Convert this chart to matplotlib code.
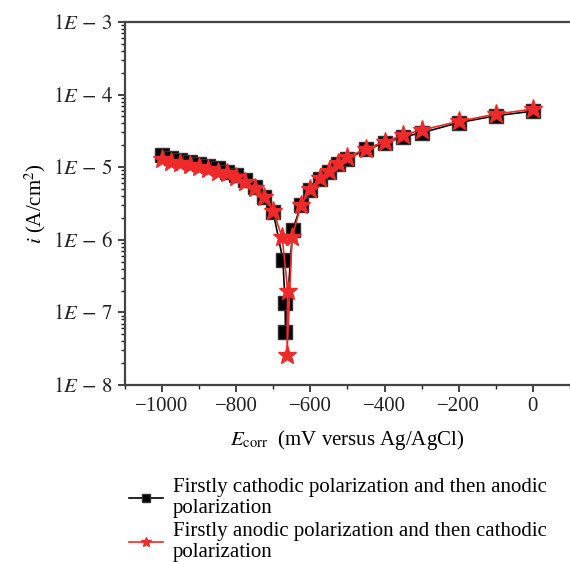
import numpy as np
import matplotlib
matplotlib.use("Agg")
import matplotlib.pyplot as plt
from matplotlib.ticker import FixedLocator, FuncFormatter, LogLocator, MultipleLocator, NullFormatter

plt.rcParams['font.family'] = ['Liberation Serif', 'DejaVu Serif']
plt.rcParams['mathtext.fontset'] = 'stix'

# Firstly cathodic then anodic (black squares)
E_cat = [-1000, -975, -950, -925, -900, -875, -850, -825, -800, -775, -750, -725, -700,
         -674, -668, -667, -648,
         -625, -600, -575, -550, -525, -500, -450, -400, -350, -300, -200, -100, 0]
i_cat = [1.46e-5, 1.32e-5, 1.25e-5, 1.18e-5, 1.12e-5, 1.03e-5, 9.6e-6, 8.6e-6, 7.8e-6, 6.6e-6, 5.4e-6, 3.9e-6, 2.4e-6,
         5.3e-7, 1.35e-7, 5.3e-8, 1.35e-6,
         3.0e-6, 4.8e-6, 6.8e-6, 8.5e-6, 1.1e-5, 1.3e-5, 1.75e-5, 2.15e-5, 2.6e-5, 2.97e-5, 4.1e-5, 5.1e-5, 5.9e-5]

# Firstly anodic then cathodic (red stars)
E_ano = [-1000, -975, -950, -925, -900, -875, -850, -825, -800, -775, -750, -725, -700,
         -676, -661, -663, -649,
         -625, -600, -575, -550, -525, -500, -450, -400, -350, -300, -200, -100, 0]
i_ano = [1.28e-5, 1.18e-5, 1.15e-5, 1.07e-5, 1.01e-5, 9.3e-6, 8.6e-6, 8.2e-6, 7.3e-6, 6.3e-6, 5.1e-6, 3.9e-6, 2.5e-6,
         1.08e-6, 2.0e-7, 2.6e-8, 1.1e-6,
         3.0e-6, 5.0e-6, 7.1e-6, 8.9e-6, 1.15e-5, 1.37e-5, 1.8e-5, 2.23e-5, 2.78e-5, 3.24e-5, 4.27e-5, 5.37e-5, 6.3e-5]

lab_cat = "Firstly cathodic polarization and then anodic\npolarization"
lab_ano = "Firstly anodic polarization and then cathodic\npolarization"

fig = plt.figure(figsize=(5.7, 5.62), dpi=100)
ax = fig.add_axes([0.219, 0.315, 0.781, 0.646])

l1, = ax.plot(E_cat, i_cat, '-', color='black', lw=1.2, marker='s', ms=9.5,
              mfc='black', mec='#333333', label=lab_cat)
l2, = ax.plot(E_ano, i_ano, '-', color='#ee2a2a', lw=1.2, marker='*', ms=14,
              mfc='#ee2a2a', mec='#ee2a2a', label=lab_ano)

ax.set_yscale('log')
ax.set_ylim(1e-8, 1e-3)
ax.set_xlim(-1100, 100)

ax.yaxis.set_major_locator(FixedLocator([1e-8, 1e-7, 1e-6, 1e-5, 1e-4, 1e-3]))
ax.yaxis.set_major_formatter(FuncFormatter(lambda v, p: r'$1\mathit{E}\,-\,%d$' % round(-np.log10(v))))
ax.yaxis.set_minor_locator(LogLocator(base=10, subs=np.arange(2, 10), numticks=20))
ax.yaxis.set_minor_formatter(NullFormatter())

ax.xaxis.set_major_locator(FixedLocator([-1000, -800, -600, -400, -200, 0]))
ax.xaxis.set_minor_locator(MultipleLocator(100))

ax.spines['right'].set_visible(False)
for s in ['left', 'top', 'bottom']:
    ax.spines[s].set_linewidth(1.6)
    ax.spines[s].set_color('#444444')

ax.tick_params(axis='both', which='major', direction='out', length=5, width=1.2,
               labelsize=15, colors='#222222')
ax.tick_params(axis='both', which='minor', direction='out', length=3, width=1.0, colors='#222222')
ax.tick_params(axis='x', which='both', top=False)

ax.set_ylabel(r'$\mathit{i}$ (A/cm$^2$)', fontsize=15, labelpad=3)
ax.set_xlabel(r'$\mathit{E}_{\mathrm{corr}}$  (mV versus Ag/AgCl)', fontsize=15, labelpad=9)

fig.legend(handles=[l1, l2], loc='upper left', bbox_to_anchor=(0.212, 0.165),
           frameon=False, fontsize=15, handlelength=1.6, handletextpad=0.5,
           labelspacing=0.15, markerscale=0.55, borderaxespad=0)

fig.savefig('out.png', dpi=100)
